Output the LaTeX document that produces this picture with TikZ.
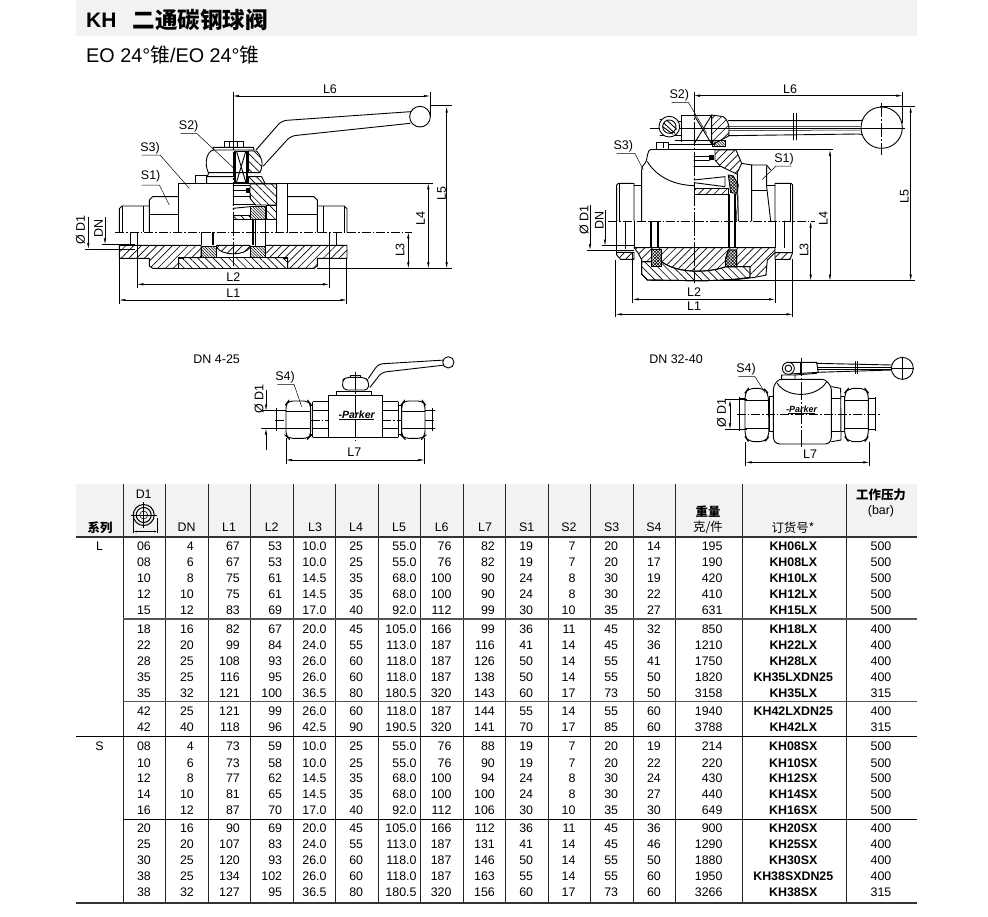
\documentclass[tikz,border=0pt]{standalone}
\usepackage{fontspec}
\setmainfont{Liberation Sans}
\newfontfamily\cjk{Noto Sans CJK SC}
\usetikzlibrary{arrows.meta,patterns.meta}
\definecolor{hdrgrey}{HTML}{F2F2F2}
\definecolor{sepgrey}{HTML}{555555}
\tikzset{
  ol/.style={line width=.9pt,line join=round,line cap=round},
  tn/.style={line width=.5pt},
  md/.style={line width=1.2pt},
  hv/.style={line width=1.8pt},
  cl/.style={line width=.6pt,dash pattern=on 9pt off 2pt on 1.5pt off 2pt},
  dimn/.style={line width=.5pt,{Latex[length=6pt,width=2.4pt]}-{Latex[length=6pt,width=2.4pt]}},
  dimend/.style={line width=.5pt,-{Latex[length=6pt,width=2.4pt]}},
  lab/.style={font=\fontsize{12.5}{12.5}\selectfont,inner sep=0pt},
  hA/.style={pattern={Lines[angle=45,distance=5.5pt,line width=.65pt]}},
  hB/.style={pattern={Lines[angle=-45,distance=5.5pt,line width=.65pt]}},
  dA/.style={pattern={Lines[angle=-45,distance=2pt,line width=.55pt]}},
  xA/.style={pattern={Hatch[angle=45,distance=2.2pt,line width=.55pt]}},
  zoomed/.style={x=0.33333pt,y=-0.33333pt},
  cell/.style={font=\fontsize{12.4}{12.4}\selectfont,inner sep=0pt},
  cellb/.style={font=\fontsize{12.4}{12.4}\selectfont\bfseries,inner sep=0pt},
  head/.style={font=\fontsize{12.4}{13}\selectfont,inner sep=0pt,text depth=0pt},
  cjkhead/.style={font=\fontsize{12.4}{13}\cjk,inner sep=0pt,text depth=0pt},
  cjkheadb/.style={font=\fontsize{12.4}{13}\cjk\bfseries,inner sep=0pt,text depth=0pt},
  logoa/.style={font=\fontsize{10.5}{10}\selectfont\bfseries\itshape,inner sep=0pt},
  logob/.style={font=\fontsize{9}{9}\selectfont\bfseries\itshape,inner sep=0pt},
}
\def\colxs{{151,194,240,282.3,326.7,363.3,416.7,451.7,495,533.3,575.7,618.3,661,722.7,793.3,881}}
\newcommand{\tabrow}[3]{%
  \foreach \v [count=\i] in {#3} {%
    \pgfmathsetmacro\xx{\colxs[\i-1]}%
    \ifnum\i=15\relax
      \node[cellb,anchor=center] (c#1-\i) at (\xx,#2) {\v};%
    \else\ifnum\i=16\relax
      \node[cell,anchor=center] (c#1-\i) at (\xx,#2) {\v};%
    \else
      \node[cell,anchor=east] (c#1-\i) at (\xx,#2) {\v};%
    \fi\fi
  }%
}
\begin{document}
\begin{tikzpicture}[x=1pt,y=-1pt]
\useasboundingbox (0,0) rectangle (988,916);
\fill[white] (0,0) rectangle (988,916);
% title
\fill[hdrgrey] (76,0) rectangle (916.7,36);
\node[anchor=west,inner sep=0pt,font=\fontsize{21}{21}\selectfont\bfseries] (ttla) at (86,20) {KH};
\node[anchor=west,inner sep=0pt,font=\fontsize{22.5}{22.5}\cjk\bfseries] (ttlb) at (132.5,20) {二通碳钢球阀};
\node[anchor=west,inner sep=0pt,font=\fontsize{19.8}{19.8}\selectfont] (sub) at (86,55) {EO 24°{\cjk 锥}/EO 24°{\cjk 锥}};

%% ---- left large valve
\begin{scope}[shift={(60,70)},zoomed]
 \draw[ol,rounded corners=5pt] (588,240)--(665,152)--(1052,125);
 \draw[ol,rounded corners=5pt] (610,288)--(692,198)--(1050,160);
 \draw[ol,fill=white] (1080,140) circle (31);
 % bolt
 \draw[ol] (492,232)--(492,215)--(550,215)--(550,232);
 \draw[tn] (507,215)--(507,232) (533,215)--(533,232);
 \draw[ol] (460,232)--(580,232)--(582,240)--(460,240)--cycle;
 % hub
 \draw[ol] (460,240)..controls (440,245) and (432,280)..(445,308)--(565,308);
 \draw[ol,hB] (565,243)--(590,243)..controls (605,260) and (612,280)..(600,308)--(565,308)--cycle;
 % stem
 \draw[ol] (525,243)--(525,338)--(562,338)--(562,243)--cycle;
 \draw[hv] (525,243)--(525,338) (560,243)--(560,338);
 \draw[ol] (530,245)--(557,335) (557,245)--(530,335);
 % collar
 \draw[ol] (441,320)--(525,320) (440,340)--(440,322)--(446,310);
 \draw[ol] (407,340)--(407,316)--(438,316)--(438,340);
 \draw[ol,hB] (565,320)--(605,320)--(615,340)--(565,340)--cycle;
 % body
 \draw[ol] (356,487)--(356,340)--(683,340)--(683,487);
 \draw[ol] (650,340)--(650,487);
 \draw[ol,hB] (570,342)--(650,342)--(650,405)--(586,405)--(570,385)--cycle;
 \draw[ol,hB] (618,405)--(650,405)--(650,447)--(618,447)--cycle;
 \draw[ol,dA] (570,410)--(615,410)--(615,447)--(570,447)--cycle;
 \fill (559,355) rectangle (571,370);
 \draw[ol] (519,345)--(570,345) (519,362)--(560,362) (519,378)--(570,378) (519,402)--(586,402);
 \draw[ol] (570,370)--(570,385);
 \draw[ol,hB] (519,435)--(570,435)--(570,447)--(519,447)--cycle;
 \draw[ol] (519,415)--(570,410);
 % side nuts
 \draw[ol] (356,380)--(278,380)--(268,390)--(268,487);
 \draw[ol] (268,432)--(356,432);
 \draw[ol] (683,380)--(762,380)--(772,390)--(772,487);
 \draw[ol] (683,432)--(772,432);
 % ports
 \draw[ol] (268,408)--(186,408)--(178,416)--(178,487);
 \draw[tn] (186,408)--(186,487) (250,408)--(250,487);
 \draw[ol] (772,408)--(853,408)--(861,416)--(861,487);
 \draw[tn] (853,408)--(853,487) (790,408)--(790,487);
 \draw[ol] (210,487)--(210,526) (232,487)--(232,526);
 \draw[ol] (807,487)--(807,526) (830,487)--(830,526);
 % lower section
 \draw[ol,hA] (178,526)--(423,526)--(423,563)--(356,563)--(356,595)--(278,595)--(268,588)--(268,565)--(178,565)--cycle;
 \draw[ol,hA] (616,526)--(861,526)--(861,565)--(772,565)--(772,588)--(762,595)--(683,595)--(683,563)--(616,563)--cycle;
 \draw[ol,hA] (470,526)--(570,526)--(570,532)..controls (555,558) and (485,558)..(470,532)--cycle;
 \draw[ol,hB] (356,563)--(683,563)--(683,595)--(356,595)--cycle;
 \draw[ol,dA] (425,528)--(470,528)--(470,562)--(425,562)--cycle;
 \draw[ol,dA] (570,528)--(615,528)--(615,562)--(570,562)--cycle;
 \fill (358,561) rectangle (372,567);
 \fill (668,561) rectangle (682,567);
 % seats
 \draw[md] (425,487)--(425,526);
 \draw[hv] (458,487)--(458,526);
 \draw[hv] (578,447)--(578,526);
 \draw[ol] (615,447)--(615,526);
 \draw[ol] (585,447)--(585,526);
 % centre lines
 \draw[cl] (165,487)--(1055,487);
 \draw[tn,dash pattern=on 24pt off 2pt on 2pt off 2pt] (519,65)--(519,595);
 % dims
 \draw[tn] (1110,65)--(1110,140) (519,65)--(519,240);
 \draw[tn] (683,340)--(1118,340) (1110,107)--(1175,107) (772,595)--(1175,595);
 \draw[dimn] (519,78)--(1110,78);
 \draw[dimn] (1160,110)--(1160,595);
 \draw[dimn] (1105,340)--(1105,595);
 \draw[dimn] (1045,487)--(1045,595);
 \draw[tn] (232,526)--(232,655) (807,526)--(807,655) (178,565)--(178,703) (860,565)--(860,703);
 \draw[dimn] (232,643)--(807,643);
 \draw[dimn] (178,690)--(860,690);
 \draw[tn] (125,523)--(225,523) (75,537)--(225,537);
 \draw[dimend] (135,440)--(135,523);
 \draw[dimend] (85,440)--(85,537);
 \node[lab] (a6) at (810,58) {L6};
 \node[lab,rotate=90] (a5) at (1145,370) {L5};
 \node[lab,rotate=90] (a4) at (1082,445) {L4};
 \node[lab,rotate=90] (a3) at (1020,540) {L3};
 \node[lab] (a2) at (520,620) {L2};
 \node[lab] (a1) at (520,670) {L1};
 \node[lab,rotate=90] (adn) at (116,475) {DN};
 \node[lab,rotate=90] (ad1) at (62,480) {Ø D1};
 \node[lab] (as2) at (386,168) {S2)};
 \node[lab] (as3) at (270,235) {S3)};
 \node[lab] (as1) at (272,320) {S1)};
 \draw[tn] (362,190)--(410,190)--(525,298);
 \draw[tn] (245,255)--(300,255)--(388,355);
 \draw[tn] (245,345)--(298,345)--(328,405);
\end{scope}

%% ---- right large valve
\begin{scope}[shift={(560,70)},zoomed]
 % handle
 \draw[ol] (505,152)--(895,152)..controls (908,152) and (915,148)..(922,138);
 \draw[ol] (505,197)--(895,192)..controls (908,192) and (915,198)..(922,208);
 \draw[tn] (505,170)--(900,170) (505,182)--(900,180);
 \draw[ol,fill=white] (700,130)--(700,210) (708,130)--(708,210);
 \draw[ol,fill=white] (965,173) circle (62);
 \draw[tn,dash pattern=on 14pt off 2pt on 2pt off 2pt] (965,100)--(965,255);
 \draw[tn] (270,175)--(1035,175);
 % hub
 \draw[ol] (365,215)--(365,135)--(455,135);
 \draw[ol,hA] (455,135)--(490,140)..controls (503,150) and (510,165)..(506,198)--(460,222)--(455,222)--cycle;
 \draw[ol] (402,135)--(455,222) (455,135)--(402,222);
 \draw[ol] (365,155)--(300,148);
 \draw[ol] (365,195)--(300,195);
 \draw[ol,fill=white] (328,170) circle (31);
 \draw[ol] (328,170) circle (20);
 \draw[ol] (312,160)--(345,190) (308,170)--(338,192) (320,150)--(350,178);
 % plate
 \draw[ol] (345,212)--(465,212) (325,222)--(465,222);
 \draw[ol,dA] (458,212)--(495,212)--(495,230)--(458,230)--cycle;
 \draw[ol] (290,235)--(290,218)--(325,218)--(325,235);
 \draw[tn] (310,218)--(310,235);
 % body
 \draw[ol] (272,238)--(530,238);
 \draw[ol] (272,238)..controls (262,240) and (262,265)..(258,275)..controls (252,285) and (245,288)..(245,300)--(245,453);
 \draw[ol] (262,275)..controls (290,320) and (340,345)..(402,347);
 \draw[ol,hA] (465,240)--(528,240)--(545,280)--(530,312)--(480,288)--(465,270)--cycle;
 \draw[ol] (545,280)--(575,285);
 \fill (448,255) rectangle (462,270);
 \draw[ol] (402,260)--(448,260) (402,272)--(448,272) (402,290)--(480,290);
 \draw[ol] (402,330)--(495,320)--(495,350)--(402,338);
 \draw[ol,hA] (402,355)--(505,355)--(505,372)--(402,372)--cycle;
 \draw[ol,xA] (505,315)--(520,318)--(535,345)--(530,370)--(512,368)--cycle;
 % right part
 \draw[ol] (532,310)--(535,453);
 \draw[ol] (575,285)--(575,453) (575,285)--(620,285)--(632,300);
 \draw[ol] (620,290)--(620,350)--(632,453);
 \draw[ol] (575,360)--(620,360);
 \draw[tn] (530,372)..controls (540,400) and (525,420)..(530,453);
 % left stub
 \draw[ol] (170,453)--(170,345)--(175,340)--(222,340)--(222,453);
 \draw[tn] (178,340)--(178,453);
 \draw[ol] (222,345)--(245,345);
 \draw[ol] (195,453)--(195,535) (222,453)--(222,532) (170,453)--(170,545);
 % right stub
 \draw[ol] (698,453)--(698,345)--(693,340)--(645,340)--(645,453);
 \draw[tn] (690,340)--(690,453);
 \draw[ol] (620,345)--(645,345);
 \draw[ol] (645,453)--(645,533) (672,453)--(672,533) (698,453)--(698,545);
 % lower section
 \draw[ol,hA] (222,533)--(645,533)--(645,548)--(622,570)--(618,615)..controls (560,630) and (470,632)..(402,632)--(262,630)--(245,612)--(245,570)--(235,550)--cycle;
 \draw[ol,fill=white] (245,575)--(245,612)--(262,630)--(402,632)..controls (470,632) and (520,630)..(570,622)--(570,590)--(498,590)..controls (440,610) and (350,610)..(305,575)--cycle;
 \draw[ol,hB] (245,575)--(245,612)--(262,630)--(402,632)..controls (470,632) and (520,630)..(570,622)--(570,590)--(498,590)..controls (440,610) and (350,610)..(305,575)--cycle;
 \draw[ol,fill=white] (275,537)--(305,537)--(305,590)--(275,590)--cycle;
 \draw[ol,xA] (275,537)--(305,537)--(305,590)--(275,590)--cycle;
 \draw[ol,fill=white] (505,540)--(530,540)--(530,590)--(497,590)--(497,565)--cycle;
 \draw[ol,xA] (505,540)--(530,540)--(530,590)--(497,590)--(497,565)--cycle;
 \draw[ol,hA] (170,547)--(222,547)--(222,568)--(182,568)--(170,555)--cycle;
 \draw[ol,hA] (645,548)--(698,548)--(690,568)--(645,568)--cycle;
 % seats
 \draw[hv] (272,453)--(272,532) (295,453)--(295,532);
 \draw[hv] (507,372)--(507,535) (525,372)--(525,535);
 % centre lines
 \draw[cl] (145,453)--(765,453);
 \draw[tn,dash pattern=on 24pt off 2pt on 2pt off 2pt] (402,65)--(402,640);
 % dims
 \draw[tn] (1027,65)--(1027,160);
 \draw[tn] (530,238)--(820,238) (960,108)--(1065,108) (402,632)--(1065,632);
 \draw[dimn] (402,77)--(1027,77);
 \draw[dimn] (1052,110)--(1052,632);
 \draw[dimn] (810,240)--(810,632);
 \draw[dimn] (752,455)--(752,632);
 \draw[tn] (218,550)--(218,700) (645,570)--(645,700) (167,570)--(167,742) (698,568)--(698,742);
 \draw[dimn] (218,688)--(645,688);
 \draw[dimn] (167,733)--(698,733);
 \draw[tn] (125,527)--(222,527) (80,540)--(222,540);
 \draw[dimend] (135,420)--(135,527);
 \draw[dimend] (90,405)--(90,540);
 \node[lab] (b6) at (690,57) {L6};
 \node[lab,rotate=90] (b5) at (1033,380) {L5};
 \node[lab,rotate=90] (b4) at (790,445) {L4};
 \node[lab,rotate=90] (b3) at (732,540) {L3};
 \node[lab] (b2) at (402,665) {L2};
 \node[lab] (b1) at (402,708) {L1};
 \node[lab,rotate=90] (bdn) at (118,450) {DN};
 \node[lab,rotate=90] (bd1) at (72,450) {Ø D1};
 \node[lab] (bs2) at (358,75) {S2)};
 \node[lab] (bs3) at (190,228) {S3)};
 \node[lab] (bs1) at (672,268) {S1)};
 \draw[tn] (335,97)--(385,97)--(440,190);
 \draw[tn] (170,250)--(225,250)--(250,300);
 \draw[tn] (695,288)--(648,288)--(607,328);
\end{scope}

%% ---- small valve DN 4-25
\begin{scope}[shift={(180,340)},zoomed]
 \node[lab] (c0) at (110,57) {DN 4-25};
 \draw[ol,rounded corners=4pt] (565,115)--(595,72)--(795,60);
 \draw[ol,rounded corners=4pt] (570,142)--(605,97)--(795,75);
 \draw[ol,fill=white] (805,67) circle (17);
 \draw[ol] (510,112)--(510,105)--(540,105)--(540,112);
 \draw[ol,fill=white,rounded corners=4pt] (495,112)--(555,112)--(567,125)--(565,150)--(490,150)--(486,125)--cycle;
 \draw[ol] (470,165)--(470,153)--(575,153)--(575,165);
 \draw[ol] (445,165)--(607,165)--(607,293)--(445,293)--cycle;
 \draw[ol] (400,185)--(445,185) (400,293)--(445,293) (398,187)--(398,291);
 \draw[ol] (400,212)--(445,212) (400,266)--(445,266);
 \draw[ol] (607,185)--(653,185) (607,293)--(653,293) (655,187)--(655,291);
 \draw[ol] (607,212)--(655,212) (607,266)--(655,266);
 \draw[ol] (390,197)--(390,283) (398,197)--(390,197) (398,283)--(390,283);
 \draw[ol] (665,197)--(665,283) (655,197)--(665,197) (655,283)--(665,283);
 \draw[ol,rounded corners=5pt] (325,183)--(385,183)--(392,192)--(392,288)--(385,295)--(325,295)--(318,288)--(318,192)--cycle;
 \draw[ol,rounded corners=5pt] (672,183)--(728,183)--(735,192)--(735,288)--(728,295)--(672,295)--(665,288)--(665,192)--cycle;
 \draw[ol] (318,213)--(392,213) (318,266)--(392,266);
 \draw[ol] (665,213)--(735,213) (665,266)--(735,266);
 \draw[ol] (245,212)--(318,212) (245,266)--(318,266);
 \draw[ol] (735,212)--(765,212) (735,266)--(765,266);
 \draw[tn] (290,205)--(290,272) (757,205)--(757,272);
 \draw[cl] (285,240)--(318,240) (392,240)--(445,240) (607,240)--(665,240) (735,240)--(768,240);
 \draw[tn,dash pattern=on 18pt off 2pt on 2pt off 2pt] (527,95)--(527,302);
 \node[logoa] (cp) at (530,224) {-Parker};
 \draw[line width=.9pt] (478,238)--(582,238);
 \draw[tn] (318,295)--(318,372) (733,295)--(733,372);
 \draw[dimn] (318,360)--(733,360);
 \draw[dimend] (258,150)--(258,212);
 \draw[dimend] (258,330)--(258,266);
 \node[lab] (c7) at (523,338) {L7};
 \node[lab,rotate=90] (cd1) at (237,178) {Ø D1};
 \node[lab] (cs4) at (315,112) {S4)};
 \draw[tn] (292,133)--(342,133)--(365,200);
\end{scope}

%% ---- small valve DN 32-40
\begin{scope}[shift={(640,340)},zoomed]
 \node[lab] (d0) at (108,57) {DN 32-40};
 \draw[ol] (530,70)--(755,75);
 \draw[ol] (530,97)--(755,90);
 \draw[tn] (530,82)--(760,82) (530,87)--(760,87);
 \draw[ol] (645,65)--(645,100) (651,65)--(651,100);
 \draw[ol,fill=white] (787,85) circle (33);
 \draw[tn] (787,50)--(787,120) (752,85)--(822,85);
 \draw[ol] (440,67)--(530,67)--(535,97)--(445,102);
 \draw[ol,fill=white] (445,85) circle (18);
 \draw[ol] (445,85) circle (10);
 \draw[ol] (480,68)--(480,100);
 \draw[ol] (425,118)--(425,105)--(465,105)--(465,118) (465,105)--(530,100);
 \draw[ol,rounded corners=3pt] (415,118)--(555,118)--(574,140)--(574,300)--(565,312)--(410,312)--(400,300)--(400,140)--cycle;
 \draw[ol] (412,130)..controls (440,175) and (530,175)..(560,125);
 \draw[ol] (575,140)--(602,145)--(603,300)--(575,305);
 \draw[ol] (575,175)--(603,175) (575,275)--(603,275);
 \draw[ol] (603,170)--(613,170)--(613,275)--(603,275);
 \draw[ol] (400,170)--(387,170)--(387,275)--(400,275);
 \draw[ol,rounded corners=6pt] (325,145)--(372,145)--(385,160)--(387,290)--(375,305)--(325,305)--(315,290)--(315,158)--cycle;
 \draw[ol,rounded corners=6pt] (625,145)--(675,145)--(685,158)--(685,290)--(675,305)--(625,305)--(614,290)--(614,158)--cycle;
 \draw[ol] (315,180)--(387,180) (315,265)--(387,265);
 \draw[ol] (614,180)--(685,180) (614,265)--(685,265);
 \draw[ol] (298,175)--(315,175) (298,268)--(315,268) (685,175)--(707,175) (685,268)--(707,268);
 \draw[tn] (298,170)--(298,272) (705,170)--(705,272);
 \draw[cl] (290,222)--(720,222);
 \draw[tn,dash pattern=on 18pt off 2pt on 2pt off 2pt] (485,55)--(485,320);
 \node[logob] (dp) at (485,208) {-Parker};
 \draw[line width=.9pt] (445,220)--(525,220);
 \draw[tn] (317,305)--(317,378) (688,305)--(688,378);
 \draw[dimn] (317,367)--(688,367);
 \draw[tn] (255,178)--(320,178) (255,268)--(320,268);
 \draw[dimn] (270,180)--(270,268);
 \node[lab] (d7) at (510,343) {L7};
 \node[lab,rotate=90] (dd1) at (245,220) {Ø D1};
 \node[lab] (ds4) at (318,87) {S4)};
 \draw[tn] (295,110)--(345,110)--(375,158);
\end{scope}

%% ---- table
\fill[hdrgrey] (76,484) rectangle (916.7,537);
\foreach \x in {123,165.7,208,250.7,293,335.7,378,420.7,463,505.7,548,590.7,633,675.7,742,846.7}
  \draw[line width=.9pt,black!85] (\x,484)--(\x,902.5);
\draw[line width=1.6pt,black!80] (76,537)--(916.7,537);
\draw[line width=1.2pt,sepgrey] (123,619)--(916.7,619);
\draw[line width=1.2pt,sepgrey] (123,701.7)--(916.7,701.7);
\draw[line width=.8pt,black] (76,736.7)--(916.7,736.7);
\draw[line width=.8pt,black] (123,819)--(916.7,819);
\draw[line width=1.6pt,black!80] (76,902.7)--(916.7,902.7);
% header
\node[cjkheadb] (hsr) at (100,527) {系列};
\node[head] (hd1) at (143.7,494) {D1};
\draw[line width=1pt] (143.7,515) circle (10.5);
\draw[line width=1pt] (143.7,515) circle (7.5);
\draw[tn] (143.7,515) circle (4);
\draw[tn] (130.5,515)--(157,515) (143.7,502)--(143.7,528);
\draw[tn] (133.5,518)--(133.5,533) (157,518)--(157,533);
\draw[line width=.5pt,{Latex[length=3pt,width=2pt]}-{Latex[length=3pt,width=2pt]}] (133.5,531.5)--(157,531.5);
\foreach \x/\t/\n in {186.7/DN/a,229/L1/b,271.7/L2/c,315/L3/d,356/L4/e,399/L5/f,441.7/L6/g,485/L7/h,526.7/S1/i,569/S2/j,611.7/S3/k,654/S4/l}
  \node[head] (hh\n) at (\x,527) {\t};
\node[cjkheadb] (hwa) at (708,511) {重量};
\node[cjkhead] (hwb) at (708,526.7) {克/件};
\node[cjkhead] (hor) at (793,527) {订货号*};
\node[cjkheadb] (hpr) at (881,494) {工作压力};
\node[head] (hba) at (881,510) {(bar)};
\node[cell] (sL) at (99.5,546.7) {L};
\node[cell] (sS) at (99.5,746) {S};
\tabrow{1}{546.7}{06,4,67,53,10.0,25,55.0,76,82,19,7,20,14,195,KH06LX,500}
\tabrow{2}{562.3}{08,6,67,53,10.0,25,55.0,76,82,19,7,20,17,190,KH08LX,500}
\tabrow{3}{578.3}{10,8,75,61,14.5,35,68.0,100,90,24,8,30,19,420,KH10LX,500}
\tabrow{4}{594}{12,10,75,61,14.5,35,68.0,100,90,24,8,30,22,410,KH12LX,500}
\tabrow{5}{610}{15,12,83,69,17.0,40,92.0,112,99,30,10,35,27,631,KH15LX,500}
\tabrow{6}{629.3}{18,16,82,67,20.0,45,105.0,166,99,36,11,45,32,850,KH18LX,400}
\tabrow{7}{645}{22,20,99,84,24.0,55,113.0,187,116,41,14,45,36,1210,KH22LX,400}
\tabrow{8}{661.7}{28,25,108,93,26.0,60,118.0,187,126,50,14,55,41,1750,KH28LX,400}
\tabrow{9}{677.7}{35,25,116,95,26.0,60,118.0,187,138,50,14,55,50,1820,KH35LXDN25,400}
\tabrow{10}{693.3}{35,32,121,100,36.5,80,180.5,320,143,60,17,73,50,3158,KH35LX,315}
\tabrow{11}{711}{42,25,121,99,26.0,60,118.0,187,144,55,14,55,60,1940,KH42LXDN25,400}
\tabrow{12}{727.3}{42,40,118,96,42.5,90,190.5,320,141,70,17,85,60,3788,KH42LX,315}
\tabrow{13}{746}{08,4,73,59,10.0,25,55.0,76,88,19,7,20,19,214,KH08SX,500}
\tabrow{14}{763.3}{10,6,73,58,10.0,25,55.0,76,90,19,7,20,22,220,KH10SX,500}
\tabrow{15}{778.3}{12,8,77,62,14.5,35,68.0,100,94,24,8,30,24,430,KH12SX,500}
\tabrow{16}{794.3}{14,10,81,65,14.5,35,68.0,100,100,24,8,30,27,440,KH14SX,500}
\tabrow{17}{810}{16,12,87,70,17.0,40,92.0,112,106,30,10,35,30,649,KH16SX,500}
\tabrow{18}{828.3}{20,16,90,69,20.0,45,105.0,166,112,36,11,45,36,900,KH20SX,400}
\tabrow{19}{844.3}{25,20,107,83,24.0,55,113.0,187,131,41,14,45,46,1290,KH25SX,400}
\tabrow{20}{860}{30,25,120,93,26.0,60,118.0,187,146,50,14,55,50,1880,KH30SX,400}
\tabrow{21}{876}{38,25,134,102,26.0,60,118.0,187,163,55,14,55,60,1950,KH38SXDN25,400}
\tabrow{22}{892.3}{38,32,127,95,36.5,80,180.5,320,156,60,17,73,60,3266,KH38SX,315}
\end{tikzpicture}
\end{document}
